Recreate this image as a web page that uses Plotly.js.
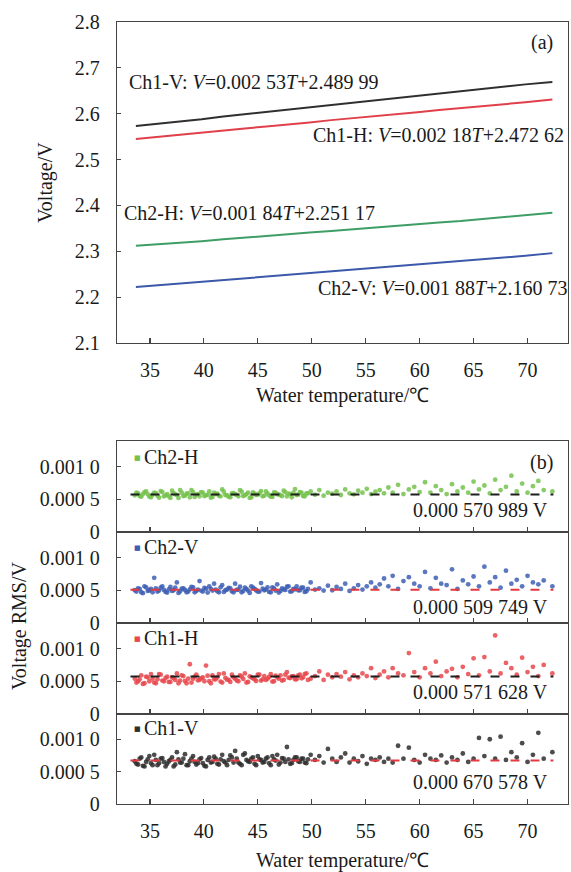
<!DOCTYPE html>
<html>
<head>
<meta charset="utf-8">
<script src="https://cdn.plot.ly/plotly-3.0.1.min.js"></script>
<style>html,body{margin:0;padding:0;background:#fff}#chart{width:571px;height:872px}</style>
</head>
<body>
<div id="chart"></div>
<script>
// ---------- Panel (a): calibration lines ----------
var lineTemp = [33.7,35.8,37.8,39.8,41.8,43.8,45.8,47.8,49.8,51.8,53.8,55.8,57.8,59.8,61.8,63.8,65.8,67.8,69.8,72.3];
var ch1V_volt = [2.573,2.578,2.584,2.588,2.594,2.599,2.604,2.609,2.614,2.620,2.625,2.629,2.635,2.640,2.645,2.650,2.655,2.660,2.664,2.669];
var ch1H_volt = [2.545,2.550,2.554,2.559,2.563,2.568,2.572,2.576,2.581,2.586,2.590,2.594,2.599,2.603,2.608,2.612,2.616,2.621,2.625,2.631];
var ch2H_volt = [2.312,2.315,2.319,2.322,2.326,2.330,2.333,2.337,2.341,2.344,2.348,2.352,2.355,2.359,2.363,2.366,2.370,2.374,2.378,2.384];
var ch2V_volt = [2.222,2.226,2.230,2.233,2.237,2.241,2.245,2.248,2.252,2.256,2.260,2.263,2.267,2.271,2.275,2.278,2.282,2.286,2.290,2.296];
var fitLabels = [
  'Ch1-V: <i>V</i>=0.002 53<i>T</i>+2.489 99',
  'Ch1-H: <i>V</i>=0.002 18<i>T</i>+2.472 62',
  'Ch2-H: <i>V</i>=0.001 84<i>T</i>+2.251 17',
  'Ch2-V: <i>V</i>=0.001 88<i>T</i>+2.160 73'
];

// ---------- Panel (b): RMS noise (values in microvolts) ----------
var rmsTemp = [
 33.6,33.9,34.2,34.5,34.8,35.1,35.4,35.7,36.0,36.3,
 36.6,36.9,37.2,37.5,37.8,38.1,38.4,38.7,39.0,39.3,
 39.6,39.9,40.2,40.5,40.8,41.1,41.4,41.7,42.0,42.3,
 42.6,42.9,43.2,43.5,43.8,44.1,44.4,44.7,45.0,45.3,
 45.6,45.9,46.2,46.5,46.8,47.1,47.4,47.7,48.0,48.3,
 48.6,48.9,49.2,49.5,49.9,50.3,50.7,51.1,51.5,51.9,
 52.3,52.7,53.1,53.5,53.9,54.3,54.7,55.1,55.5,55.9,
 56.3,56.7,57.1,57.5,58.0,58.5,59.0,59.5,60.0,60.5,
 61.0,61.5,62.0,62.5,63.0,63.5,64.0,64.5,65.0,65.5,
 66.0,66.5,67.0,67.5,68.0,68.5,69.0,69.5,70.0,70.5,
 71.0,71.5,72.3];
var ch2H_rms_uV = [
 560,590,540,610,575,530,600,555,625,545,
 580,520,595,565,640,550,585,530,610,570,
 545,600,560,620,535,580,555,650,565,540,
 590,575,545,615,560,600,530,585,570,625,
 555,590,540,605,575,560,630,545,580,600,
 565,610,550,590,620,570,640,555,600,585,
 620,565,650,590,575,630,600,660,580,615,
 640,590,680,600,720,580,650,690,610,760,
 600,700,640,580,730,620,680,600,770,650,
 710,590,800,640,690,860,620,740,600,700,
 780,640,620];
var ch2V_rms_uV = [
 500,530,470,560,490,520,690,480,540,505,
 465,550,500,620,485,530,470,515,545,490,
 640,480,525,560,495,510,470,580,500,535,
 485,600,510,470,540,495,560,520,480,610,
 500,545,470,530,590,490,515,555,480,520,
 560,500,540,485,620,510,530,495,570,500,
 550,520,600,490,530,580,510,560,620,540,
 590,680,560,720,520,640,700,600,560,780,
 530,690,600,580,820,520,650,590,710,560,
 860,620,700,540,800,600,660,560,720,620,
 590,650,560];
var ch1H_rms_uV = [
 540,500,590,470,560,610,480,530,600,500,
 570,490,550,620,510,580,470,760,540,600,
 520,560,740,500,590,530,610,480,550,520,
 600,540,500,570,620,490,560,530,600,510,
 580,540,610,500,560,590,520,640,550,580,
 530,600,560,620,540,580,650,520,600,560,
 610,570,640,530,590,560,620,580,700,550,
 600,650,560,700,620,590,930,640,560,700,
 620,800,580,650,690,560,720,610,850,590,
 870,650,1200,620,780,700,600,860,640,720,
 580,750,620];
var ch1V_rms_uV = [
 660,610,720,580,690,630,760,600,700,650,
 620,680,580,800,640,700,600,660,740,610,
 690,630,580,720,650,700,610,760,640,680,
 720,820,640,600,780,660,700,620,740,680,
 650,720,600,690,760,640,700,880,620,680,
 720,650,700,630,760,680,740,640,850,700,
 650,720,780,640,700,660,740,620,700,680,
 720,650,700,640,900,700,870,680,640,760,
 700,680,750,640,720,680,780,650,700,1020,
 740,1000,700,1040,680,800,720,940,650,760,
 1100,700,800];
// additional readings in the dense low-temperature stretch
var rmsTempLow = [
 33.75,34.05,34.35,34.65,34.95,35.25,35.55,35.85,36.15,36.45,
 36.75,37.05,37.35,37.65,37.95,38.25,38.55,38.85,39.15,39.45,
 39.75,40.05,40.35,40.65,40.95,41.25,41.55,41.85,42.15,42.45,
 42.75,43.05,43.35,43.65,43.95,44.25,44.55,44.85,45.15,45.45,
 45.75,46.05,46.35,46.65,46.95,47.25,47.55,47.85,48.15,48.45,
 48.75,49.05,49.35,49.65];
var ch2H_rms_low_uV = [
 600,550,580,620,540,570,595,525,610,560,
 545,630,575,520,600,555,590,640,535,580,
 610,550,570,525,600,585,545,615,560,530,
 595,570,640,550,580,520,605,565,590,545,
 620,560,535,600,575,550,610,585,530,655,
 570,600,545,590];
var ch2V_rms_low_uV = [
 480,520,455,545,500,470,530,495,560,475,
 515,490,540,460,525,505,480,550,470,510,
 495,535,465,520,600,485,545,475,510,530,
 470,505,555,490,520,460,540,500,480,525,
 510,475,545,495,465,530,505,560,485,515,
 500,540,475,520];
var ch1H_rms_low_uV = [
 480,530,460,570,500,540,470,610,510,550,
 490,560,520,470,590,505,540,480,570,515,
 545,500,585,470,530,560,495,620,525,490,
 560,510,590,535,480,575,545,505,600,530,
 520,565,495,585,540,510,600,555,575,530,
 590,545,610,520];
var ch1V_rms_low_uV = [
 620,700,590,650,740,600,680,630,710,580,
 660,720,610,690,640,770,600,700,650,630,
 710,590,680,640,730,620,690,660,600,750,
 640,700,620,760,680,650,720,600,690,640,
 700,630,740,670,610,710,650,690,630,720,
 660,700,640,690];
var rmsMeans = [0.000570989, 0.000509749, 0.000571628, 0.000670578];
var rmsMeanLabels = ['0.000 570 989 V','0.000 509 749 V','0.000 571 628 V','0.000 670 578 V'];
var rmsNames = ['Ch2-H','Ch2-V','Ch1-H','Ch1-V'];
var meanSpan = [33.2, 72.4];

var tempTicks = [35,40,45,50,55,60,65,70];
var voltTicks = [2.1,2.2,2.3,2.4,2.5,2.6,2.7,2.8];
var rmsTickVals = [0, 0.0005, 0.001];
var rmsTickText = ['0','0.000 5','0.001 0'];

// ---------- drawing ----------
var W = 571, H = 872;
function px(x){ return x / W; }
function py(y){ return 1 - y / H; }
var FONT = 'Liberation Serif, Times New Roman, serif';
var TXT = '#1a1a1a';
var AX = '#444';

var traces = [];
var topColors = ['#2f2f2f','#e0404a','#3e9e66','#3b58aa'];
[ch1V_volt, ch1H_volt, ch2H_volt, ch2V_volt].forEach(function(v,i){
  traces.push({x: lineTemp, y: v, type:'scatter', mode:'lines', xaxis:'x', yaxis:'y',
    line:{color: topColors[i], width:2}, hoverinfo:'skip'});
});

var rmsSets = [ch2H_rms_uV, ch2V_rms_uV, ch1H_rms_uV, ch1V_rms_uV];
var rmsLowSets = [ch2H_rms_low_uV, ch2V_rms_low_uV, ch1H_rms_low_uV, ch1V_rms_low_uV];
var ptColors = ['#74c24c','#3d5fb4','#e8484c','#2e2e2e'];
var meanColors = ['#1e1e1e','#e23a40','#1e1e1e','#e23a40'];
rmsSets.forEach(function(arr,i){
  var ax = String(i+2);
  var xs = rmsTemp.concat(rmsTempLow);
  var ys = arr.concat(rmsLowSets[i]).map(function(v){return v*1e-6;});
  traces.push({x: xs, y: ys, type:'scatter', mode:'markers',
    xaxis:'x'+ax, yaxis:'y'+ax, marker:{color: ptColors[i], size:4.8, opacity:0.85}, hoverinfo:'skip'});
  traces.push({x: meanSpan, y:[rmsMeans[i], rmsMeans[i]], type:'scatter', mode:'lines',
    xaxis:'x'+ax, yaxis:'y'+ax, line:{color: meanColors[i], width:2, dash:'9px,11px'}, hoverinfo:'skip'});
});

var tf = {family: FONT, size: 20, color: TXT};
function xAxis(anchor, showLabels){
  return {domain:[px(117), px(568)], range:[31.95, 73.75], anchor: anchor,
    tickvals: tempTicks, ticks:'inside', ticklen:5, tickwidth:1.2, tickcolor: AX,
    showline:true, mirror:true, linecolor: AX, linewidth:1.3, showgrid:false, zeroline:false,
    showticklabels: showLabels, tickfont: tf, ticklabelstandoff: 9};
}
var layout = {
  width: W, height: H, margin:{l:0,r:0,t:0,b:0}, showlegend:false,
  paper_bgcolor:'#fff', plot_bgcolor:'#fff', font:{family: FONT, color: TXT},
  xaxis: xAxis('y', true),
  yaxis: {domain:[py(343), py(22)], range:[2.1, 2.8], anchor:'x', tickvals: voltTicks,
    ticktext: voltTicks.map(function(v){return v.toFixed(1);}),
    ticks:'inside', ticklen:4, tickwidth:1.2, tickcolor: AX, showline:true, mirror:true,
    linecolor: AX, linewidth:1.3, showgrid:false, zeroline:false, tickfont: tf, ticklabelstandoff: 12},
  annotations: [], shapes: []
};
var panelPx = [[441,532],[532,623],[623,714],[714,804]];
panelPx.forEach(function(p,i){
  var ax = String(i+2);
  layout['xaxis'+ax] = xAxis('y'+ax, i===3);
  if (i>0) layout['xaxis'+ax].matches = 'x2';
  layout['yaxis'+ax] = {domain:[py(p[1]), py(p[0])], range:[0, 0.00139], anchor:'x'+ax,
    tickvals: rmsTickVals, ticktext: rmsTickText,
    ticks:'inside', ticklen:4, tickwidth:1.2, tickcolor: AX, showline:true, mirror:true,
    linecolor: AX, linewidth:1.3, showgrid:false, zeroline:false, tickfont: tf, ticklabelstandoff: 12};
});

function ann(text, x, y, xanchor, extra){
  var a = {text: text, xref:'paper', yref:'paper', x: px(x), y: py(y), xanchor: xanchor, yanchor:'middle',
    showarrow:false, font:{family: FONT, size: 20, color: TXT}};
  for (var k in extra) a[k] = extra[k];
  layout.annotations.push(a);
}
ann('(a)', 555, 43, 'right');
ann(fitLabels[0], 127, 82, 'left');
ann(fitLabels[1], 566, 135, 'right');
ann(fitLabels[2], 122, 213, 'left');
ann(fitLabels[3], 569, 288, 'right');
ann('Voltage/V', 45, 182, 'center', {textangle:-90});
ann('Water temperature/℃', 342, 395, 'center');
ann('(b)', 555, 462, 'right');
var legY = [457, 547, 638, 728];
var valY = [510, 607, 692, 782];
rmsNames.forEach(function(n,i){
  ann('■', 137, legY[i]+1, 'center', {font:{family:'DejaVu Sans', size:7, color: ptColors[i]}});
  ann(n, 142, legY[i], 'left');
  ann(rmsMeanLabels[i], 550, valY[i], 'right');
});
ann('Voltage RMS/V', 19, 626, 'center', {textangle:-90});
ann('Water temperature/℃', 342, 860, 'center');

Plotly.newPlot('chart', traces, layout, {staticPlot:true, displayModeBar:false});
</script>
</body>
</html>
